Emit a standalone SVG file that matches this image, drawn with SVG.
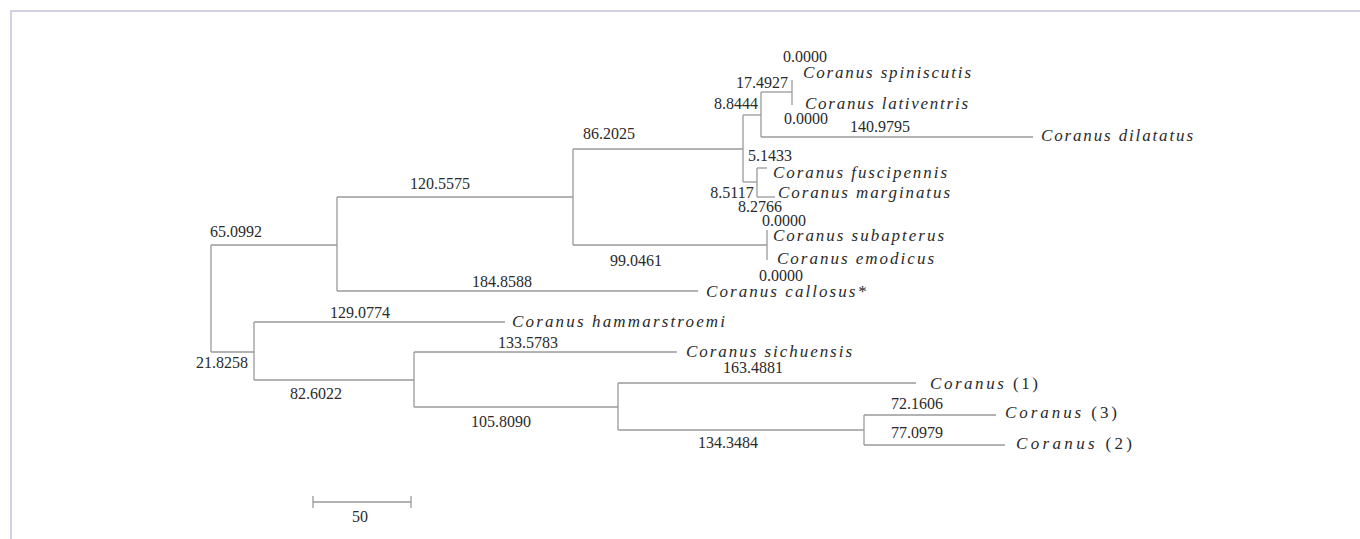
<svg xmlns="http://www.w3.org/2000/svg" width="1360" height="539" viewBox="0 0 1360 539">
<style>
.br{stroke:#9a9a9a;stroke-width:1.3;fill:none}
.num{font-family:"Liberation Serif","Times New Roman","DejaVu Serif",serif;font-size:16px;fill:#2a2a2a;text-anchor:middle}
.sp{font-family:"Liberation Serif","Times New Roman","DejaVu Serif",serif;font-size:17px;fill:#2a2a2a;font-style:italic}
.rm{font-style:normal}
.frame{stroke:#c4c2dc;stroke-width:1.5;fill:none}
</style>
<rect width="1360" height="539" fill="#ffffff"/>
<path class="frame" d="M11,539 V11 H1360"/>
<g id="connectors">
<path class="br" d="M211,245 V352"/>
<path class="br" d="M211,245 H337"/>
<path class="br" d="M337,197 V291"/>
<path class="br" d="M337,197 H573"/>
<path class="br" d="M337,291 H698"/>
<path class="br" d="M573,149 V245"/>
<path class="br" d="M573,149 H743"/>
<path class="br" d="M573,245 H767"/>
<path class="br" d="M743,115 V182"/>
<path class="br" d="M743,115 H761"/>
<path class="br" d="M761,92 V137"/>
<path class="br" d="M761,92 H792"/>
<path class="br" d="M792,80 V105"/>
<path class="br" d="M761,137 H1033"/>
<path class="br" d="M743,182 H757"/>
<path class="br" d="M757,168 V197"/>
<path class="br" d="M757,168 H767"/>
<path class="br" d="M757,197 H775"/>
<path class="br" d="M767,230 V260"/>
<path class="br" d="M211,352 H254"/>
<path class="br" d="M254,322 V380"/>
<path class="br" d="M254,322 H505"/>
<path class="br" d="M254,380 H414"/>
<path class="br" d="M414,352 V407"/>
<path class="br" d="M414,352 H677"/>
<path class="br" d="M414,407 H618"/>
<path class="br" d="M618,383 V430"/>
<path class="br" d="M618,383 H916"/>
<path class="br" d="M618,430 H864"/>
<path class="br" d="M864,415 V445"/>
<path class="br" d="M864,415 H996"/>
<path class="br" d="M864,445 H1005"/>
</g>
<g id="branch-labels">
<text class="num" x="236" y="237">65.0992</text>
<text class="num" x="440" y="189">120.5575</text>
<text class="num" x="502" y="287">184.8588</text>
<text class="num" x="609" y="139">86.2025</text>
<text class="num" x="636" y="266">99.0461</text>
<text class="num" x="805" y="62">0.0000</text>
<text class="num" x="762" y="88">17.4927</text>
<text class="num" x="736" y="109">8.8444</text>
<text class="num" x="806" y="124">0.0000</text>
<text class="num" x="880" y="132">140.9795</text>
<text class="num" x="770" y="161">5.1433</text>
<text class="num" x="732" y="198">8.5117</text>
<text class="num" x="760" y="212">8.2766</text>
<text class="num" x="784" y="226">0.0000</text>
<text class="num" x="781" y="281">0.0000</text>
<text class="num" x="222" y="368">21.8258</text>
<text class="num" x="360" y="318">129.0774</text>
<text class="num" x="316" y="399">82.6022</text>
<text class="num" x="528" y="348">133.5783</text>
<text class="num" x="501" y="427">105.8090</text>
<text class="num" x="753" y="373">163.4881</text>
<text class="num" x="728" y="448">134.3484</text>
<text class="num" x="917" y="409">72.1606</text>
<text class="num" x="917" y="438">77.0979</text>
</g>
<g id="node-spiniscutis"><text class="sp" x="803" y="78" textLength="168">Coranus spiniscutis</text></g>
<g id="node-lativentris"><text class="sp" x="805" y="109" textLength="163">Coranus lativentris</text></g>
<g id="node-dilatatus"><text class="sp" x="1041" y="141" textLength="152">Coranus dilatatus</text></g>
<g id="node-fuscipennis"><text class="sp" x="773" y="178" textLength="174">Coranus fuscipennis</text></g>
<g id="node-marginatus"><text class="sp" x="778" y="198" textLength="172">Coranus marginatus</text></g>
<g id="node-subapterus"><text class="sp" x="773" y="241" textLength="171">Coranus subapterus</text></g>
<g id="node-emodicus"><text class="sp" x="777" y="264" textLength="157">Coranus emodicus</text></g>
<g id="node-callosus"><text class="sp" x="706" y="297" textLength="160">Coranus callosus*</text></g>
<g id="node-hammarstroemi"><text class="sp" x="512" y="327" textLength="213">Coranus hammarstroemi</text></g>
<g id="node-sichuensis"><text class="sp" x="686" y="357" textLength="166">Coranus sichuensis</text></g>
<g id="node-coranus1"><text class="sp" x="930" y="389" textLength="108">Coranus <tspan class="rm">(1)</tspan></text></g>
<g id="node-coranus3"><text class="sp" x="1005" y="418" textLength="112">Coranus <tspan class="rm">(3)</tspan></text></g>
<g id="node-coranus2"><text class="sp" x="1016" y="449" textLength="116">Coranus <tspan class="rm">(2)</tspan></text></g>
<g id="scale-bar">
<path class="br" d="M313,502 H411 M313,496 V508 M411,496 V508"/>
<text class="num" x="360" y="522">50</text>
</g>
</svg>
